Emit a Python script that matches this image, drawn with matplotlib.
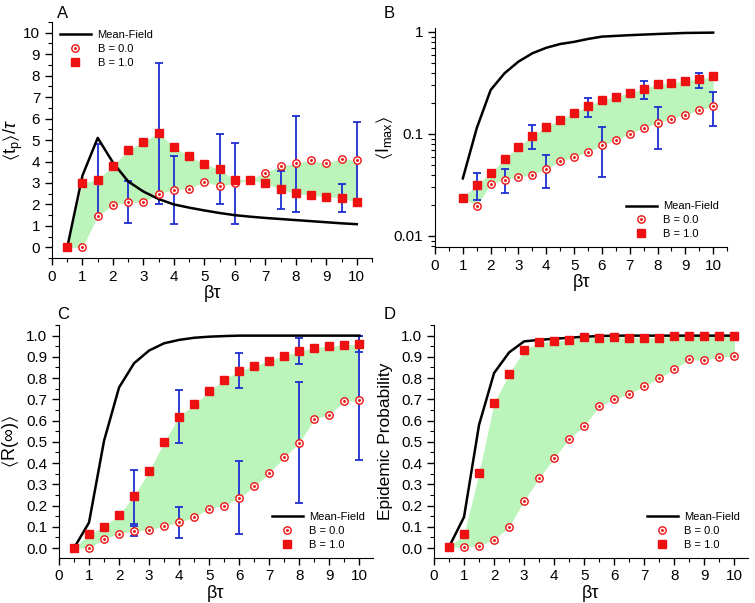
import numpy as np
import matplotlib
matplotlib.use('Agg')
import matplotlib.pyplot as plt
from matplotlib.ticker import MultipleLocator, LogLocator, FixedLocator, NullFormatter

plt.rcParams['font.family'] = ['Liberation Sans', 'DejaVu Sans']
plt.rcParams['mathtext.fontset'] = 'custom'
plt.rcParams['mathtext.rm'] = 'Liberation Sans'
plt.rcParams['mathtext.it'] = 'Liberation Sans:italic'
plt.rcParams['mathtext.fallback'] = 'stix'

#### Data
bt = [0.5, 1, 1.5, 2, 2.5, 3, 3.5, 4, 4.5, 5, 5.5, 6, 6.5, 7, 7.5, 8, 8.5, 9, 9.5, 10]

# A: <t_p>/tau
a_mf = [0, 3.35, 5.1, 3.95, 3.07, 2.6, 2.25, 2.0, 1.85, 1.72, 1.6, 1.5, 1.43, 1.37,
        1.32, 1.27, 1.22, 1.17, 1.12, 1.08]
a_b0 = [0, 0, 1.47, 1.97, 2.11, 2.09, 2.5, 2.68, 2.74, 3.05, 2.87, 2.98, 3.16, 3.47,
        3.8, 3.92, 4.06, 3.92, 4.14, 4.05]
a_b1 = [0, 3.0, 3.16, 3.8, 4.53, 4.93, 5.33, 4.68, 4.26, 3.88, 3.63, 3.16, 3.16, 2.98,
        2.70, 2.51, 2.42, 2.36, 2.31, 2.11]
a_err_x = [1.5, 2.5, 3.5, 4, 5.5, 6, 7.5, 8, 9.5, 10]
a_err_lo = [1.46, 1.15, 2.03, 1.10, 2.0, 1.10, 1.77, 1.67, 1.66, 2.23]
a_err_hi = [4.82, 3.08, 8.57, 4.25, 5.26, 4.87, 3.57, 6.12, 2.95, 5.83]

# B: <I_max>
b_mf_x = [1, 1.5, 2, 2.5, 3, 3.5, 4, 4.5, 5, 5.5, 6, 7, 8, 9, 10]
b_mf = [0.0367, 0.114, 0.27, 0.394, 0.512, 0.618, 0.70, 0.762, 0.80, 0.854, 0.90,
        0.93, 0.955, 0.978, 0.985]
b_b0_x = bt[2:]
b_b0 = [0.0198, 0.0324, 0.0357, 0.0379, 0.040, 0.0457, 0.054, 0.0595, 0.0667, 0.0775,
        0.0868, 0.1, 0.115, 0.128, 0.141, 0.155, 0.172, 0.188]
b_b1_x = bt[1:]
b_b1 = [0.0236, 0.0319, 0.0415, 0.0569, 0.075, 0.096, 0.118, 0.137, 0.162, 0.187,
        0.216, 0.231, 0.254, 0.276, 0.307, 0.318, 0.333, 0.346, 0.367]
b_err_x = [1.5, 2.5, 3.5, 4, 5.5, 6, 7.5, 8, 9.5, 10]
b_err_lo = [0.0223, 0.0263, 0.0705, 0.0297, 0.146, 0.0376, 0.219, 0.072, 0.285, 0.12]
b_err_hi = [0.0413, 0.0455, 0.1225, 0.0622, 0.226, 0.117, 0.329, 0.184, 0.399, 0.258]

# C: <R(inf)>
c_mf = [0, 0.12, 0.505, 0.756, 0.87, 0.93, 0.964, 0.98, 0.99, 0.995, 0.998, 1.0, 1.0,
        1.0, 1.0, 1.0, 1.0, 1.0, 1.0, 1.0]
c_b0 = [0, 0, 0.044, 0.068, 0.080, 0.085, 0.104, 0.121, 0.145, 0.186, 0.20, 0.235,
        0.29, 0.353, 0.428, 0.496, 0.608, 0.628, 0.69, 0.696]
c_b1 = [0, 0.065, 0.099, 0.157, 0.246, 0.362, 0.50, 0.619, 0.676, 0.739, 0.792, 0.835,
        0.857, 0.882, 0.906, 0.928, 0.942, 0.951, 0.956, 0.961]
c_err_x = [2.5, 2.5, 4, 4, 6, 6, 8, 8, 10, 10]
c_err_lo = [0.115, 0.055, 0.494, 0.049, 0.752, 0.065, 0.866, 0.214, 0.925, 0.414]
c_err_hi = [0.369, 0.105, 0.744, 0.195, 0.918, 0.41, 0.987, 0.783, 0.998, 1.0]

# D: epidemic probability
d_mf = [0.005, 0.146, 0.58, 0.824, 0.921, 0.973, 0.98, 0.985, 0.99, 0.995, 0.998, 1.0,
        1.0, 1.0, 1.0, 1.0, 1.0, 1.0, 1.0, 1.0]
d_b0 = [0.005, 0.005, 0.01, 0.04, 0.099, 0.223, 0.329, 0.425, 0.514, 0.575, 0.668, 0.70,
        0.725, 0.763, 0.80, 0.843, 0.888, 0.884, 0.9, 0.902]
d_b1 = [0.005, 0.065, 0.354, 0.684, 0.819, 0.932, 0.968, 0.973, 0.98, 0.992, 0.99,
        0.995, 0.99, 0.99, 0.989, 1.0, 1.0, 1.0, 1.0, 1.0]

RED = '#ee1111'
BLUE = '#1f2fd0'
GREEN = '#bcf5bc'


def draw_panel(ax, mf_x, mf_y, x0, y0, x1, y1, fill_x, fill_lo, fill_hi,
               ex=None, elo=None, ehi=None, legend_loc='lower right'):
    ax.fill_between(fill_x, fill_lo, fill_hi, color=GREEN, lw=0, zorder=1)
    if ex is not None:
        ex = np.array(ex)
        lo = np.array(elo)
        hi = np.array(ehi)
        mid = (lo + hi) / 2
        ax.errorbar(ex, mid, yerr=[mid - lo, hi - mid], fmt='none', ecolor=BLUE,
                    elinewidth=1.3, capsize=3, capthick=1.3, zorder=2)
    mf_line, = ax.plot(mf_x, mf_y, color='black', lw=1.8, zorder=3)
    circ, = ax.plot(x0, y0, ls='none', marker='o', ms=5.3, mfc='white', mec=RED,
                    mew=1.0, zorder=4)
    dot, = ax.plot(x0, y0, ls='none', marker='o', ms=1.1, color=RED, zorder=4)
    sq, = ax.plot(x1, y1, ls='none', marker='s', ms=5.3, color=RED, zorder=5)
    ax.legend([mf_line, (circ, dot), sq], ['Mean-Field', 'B = 0.0', 'B = 1.0'],
              loc=legend_loc, frameon=False, fontsize=8, handlelength=2.8,
              labelspacing=0.35, borderaxespad=0.3, handletextpad=0.6)
    for s in ['top', 'right']:
        ax.spines[s].set_visible(False)
    ax.tick_params(which='major', direction='out', length=5, width=1, labelsize=11)
    ax.tick_params(which='minor', direction='out', length=3, width=0.8)
    ax.xaxis.set_major_locator(MultipleLocator(1))
    ax.xaxis.set_minor_locator(MultipleLocator(0.5))
    ax.set_xlabel('βτ', fontsize=13, labelpad=1)


fig = plt.figure(figsize=(7.55, 6.03), dpi=100)

# Panel A
axA = fig.add_axes([0.0689, 0.572, 0.4238, 0.3915])
draw_panel(axA, bt, a_mf, bt, a_b0, bt, a_b1, bt, np.minimum(a_b0, a_b1),
           np.maximum(a_b0, a_b1), a_err_x, a_err_lo, a_err_hi, legend_loc='upper left')
axA.set_xlim(0, 10.5)
axA.set_ylim(-0.5, 10.5)
axA.yaxis.set_major_locator(MultipleLocator(1))
axA.yaxis.set_minor_locator(MultipleLocator(0.5))
axA.set_ylabel(r'$\langle\mathrm{t_p}\rangle/\tau$', fontsize=13)
axA.yaxis.set_label_coords(-0.084, 0.5)

# Panel B
axB = fig.add_axes([0.5762, 0.5904, 0.3868, 0.3632])
b_fill_lo = [b_b1[0]] + b_b0
draw_panel(axB, b_mf_x, b_mf, b_b0_x, b_b0, b_b1_x, b_b1, b_b1_x, b_fill_lo, b_b1,
           b_err_x, b_err_lo, b_err_hi)
axB.set_yscale('log')
axB.set_xlim(0, 10.5)
axB.set_ylim(0.0078, 1.094)
axB.yaxis.set_major_locator(FixedLocator([0.01, 0.1, 1]))
axB.yaxis.set_major_formatter(plt.FixedFormatter(['0.01', '0.1', '1']))
axB.yaxis.set_minor_locator(LogLocator(base=10, subs=np.arange(2, 10)))
axB.yaxis.set_minor_formatter(NullFormatter())
axB.set_ylabel(r'$\langle\mathrm{I_{max}}\rangle$', fontsize=13)
axB.yaxis.set_label_coords(-0.137, 0.5)

# Panel C
axC = fig.add_axes([0.0781, 0.0753, 0.4159, 0.3857])
draw_panel(axC, bt, c_mf, bt, c_b0, bt, c_b1, bt, c_b0, c_b1,
           c_err_x, c_err_lo, c_err_hi)
axC.set_xlim(0, 10.45)
axC.set_ylim(-0.045, 1.05)
axC.yaxis.set_major_locator(MultipleLocator(0.1))
axC.yaxis.set_minor_locator(MultipleLocator(0.05))
axC.yaxis.set_major_formatter(plt.FormatStrFormatter('%.1f'))
axC.set_ylabel(r'$\langle\mathrm{R}(\infty)\rangle$', fontsize=13)
axC.yaxis.set_label_coords(-0.12, 0.5)

# Panel D
axD = fig.add_axes([0.5748, 0.0753, 0.4159, 0.3857])
draw_panel(axD, bt, d_mf, bt, d_b0, bt, d_b1, bt, d_b0, d_b1)
axD.set_xlim(0, 10.45)
axD.set_ylim(-0.045, 1.05)
axD.yaxis.set_major_locator(MultipleLocator(0.1))
axD.yaxis.set_minor_locator(MultipleLocator(0.05))
axD.yaxis.set_major_formatter(plt.FormatStrFormatter('%.1f'))
axD.set_ylabel('Epidemic Probability', fontsize=12.5)
axD.yaxis.set_label_coords(-0.13, 0.5)

for lab, xx, yy in [('A', 0.075, 0.978), ('B', 0.508, 0.977), ('C', 0.075, 0.478),
                    ('D', 0.508, 0.478)]:
    fig.text(xx, yy, lab, fontsize=12, ha='left', va='center')

fig.savefig('out.png', dpi=100)
